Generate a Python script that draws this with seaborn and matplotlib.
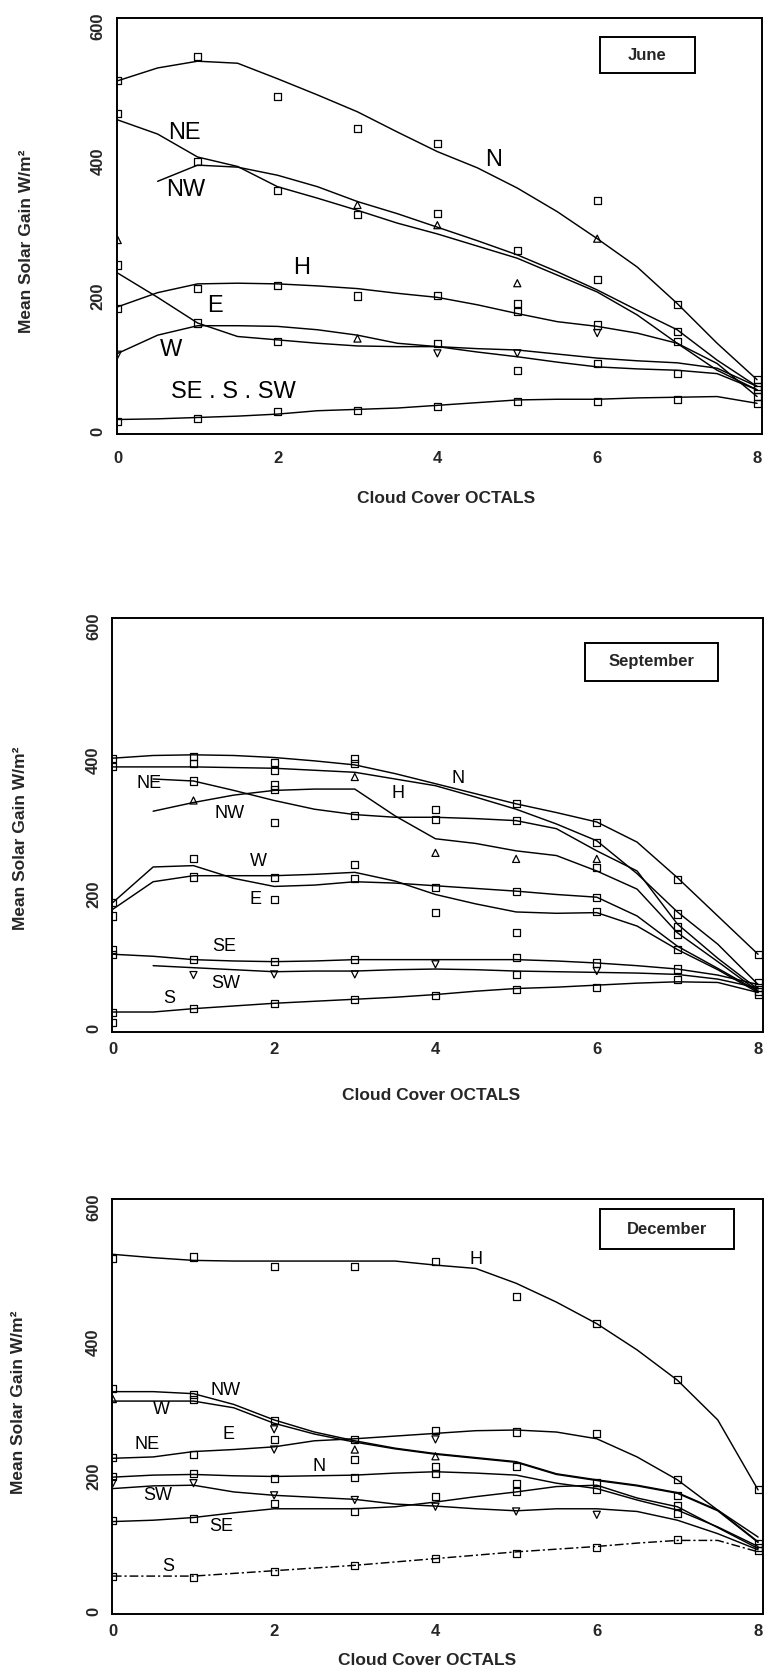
"""Mean solar gain against cloud cover: June, September and December panels."""

import matplotlib
matplotlib.use("Agg")
import matplotlib.pyplot as plt
import numpy as np
import pandas as pd
import seaborn as sns
from matplotlib.patches import Rectangle

nan = np.nan

# cloud cover (octals) at which the smoothed curves were read
STEPS = [0, 0.5, 1, 1.5, 2, 2.5, 3, 3.5, 4, 4.5, 5, 5.5, 6, 6.5, 7, 7.5, 8]

# ---------------- June: curves (W/m2)
jun_N = [519, 538, 548, 545, 522, 498, 473, 443, 414, 390, 360, 325, 285, 243, 189, 130, 76]
jun_NE = [461, 440, 406, 392, 362, 345, 327, 308, 292, 274, 256, 231, 206, 172, 130, 90, 61]
jun_NW = [nan, 370, 394, 391, 379, 362, 340, 322, 302, 282, 261, 236, 209, 179, 150, 105, 66]
jun_H = [184, 205, 218, 219, 218, 215, 211, 204, 198, 187, 174, 162, 155, 145, 130, 100, 51]
jun_E = [234, 198, 160, 140, 135, 130, 126, 125, 125, 122, 120, 114, 108, 104, 101, 93, 66]
jun_W = [115, 142, 156, 156, 155, 150, 142, 130, 125, 117, 110, 102, 95, 92, 90, 85, 61]
jun_SES = [17, 18, 20, 22, 25, 30, 32, 34, 38, 42, 46, 47, 47, 49, 50, 51, 41]

# June: plotted observations
jun_pt_oct = [0, 0, 0, 0, 0, 0, 0,
              1, 1, 1, 1, 1,
              2, 2, 2, 2, 2,
              3, 3, 3, 3, 3, 3,
              4, 4, 4, 4, 4, 4, 4,
              5, 5, 5, 5, 5, 5, 5,
              6, 6, 6, 6, 6, 6, 6,
              7, 7, 7, 7, 7,
              8, 8, 8, 8, 8]
jun_pt_val = [520, 471, 283, 246, 182, 113, 14,
              555, 399, 211, 160, 19,
              496, 357, 215, 132, 29,
              448, 335, 321, 200, 137, 31,
              426, 322, 305, 201, 130, 115, 36,
              268, 219, 189, 177, 115, 90, 43,
              341, 285, 224, 157, 145, 100, 43,
              187, 147, 132, 85, 46,
              76, 66, 61, 51, 41]
jun_pt_sym = ["s", "s", "^", "s", "s", "v", "s",
              "s", "s", "s", "s", "s",
              "s", "s", "s", "s", "s",
              "s", "^", "s", "s", "^", "s",
              "s", "s", "^", "s", "s", "v", "s",
              "s", "^", "s", "s", "v", "s", "s",
              "s", "^", "s", "s", "v", "s", "s",
              "s", "s", "s", "s", "s",
              "s", "s", "s", "s", "s"]

# ---------------- September: curves (W/m2)
sep_N = [403, 407, 408, 407, 404, 399, 393, 380, 365, 350, 335, 322, 308, 278, 225, 168, 111]
sep_H = [390, 390, 390, 389, 388, 385, 382, 372, 362, 345, 327, 305, 280, 231, 174, 126, 66]
sep_NE = [nan, 372, 369, 355, 340, 327, 319, 315, 315, 313, 310, 298, 265, 235, 156, 105, 59]
sep_NW = [nan, 324, 337, 348, 355, 357, 357, 317, 283, 276, 265, 258, 235, 208, 143, 100, 56]
sep_W = [188, 241, 243, 224, 212, 214, 219, 217, 213, 209, 205, 200, 196, 168, 123, 90, 56]
sep_E = [178, 219, 228, 228, 228, 230, 233, 220, 200, 186, 174, 172, 173, 153, 118, 88, 54]
sep_SE = [111, 108, 103, 101, 100, 101, 103, 103, 103, 103, 103, 101, 98, 94, 89, 80, 66]
sep_SW = [nan, 94, 91, 88, 85, 86, 86, 88, 89, 88, 86, 85, 84, 83, 81, 74, 61]
sep_S = [25, 25, 30, 34, 38, 41, 44, 47, 51, 56, 60, 62, 65, 68, 70, 69, 54]

sep_pt_oct = [0, 0, 0, 0, 0, 0, 0, 0,
              1, 1, 1, 1, 1, 1, 1, 1, 1,
              2, 2, 2, 2, 2, 2, 2, 2, 2, 2,
              3, 3, 3, 3, 3, 3, 3, 3, 3,
              4, 4, 4, 4, 4, 4, 4,
              5, 5, 5, 5, 5, 5, 5, 5,
              6, 6, 6, 6, 6, 6, 6, 6, 6,
              7, 7, 7, 7, 7, 7, 7,
              8, 8, 8, 8, 8]
sep_pt_val = [403, 390, 188, 168, 118, 111, 24, 10,
              405, 395, 369, 340, 254, 226, 103, 80, 30,
              397, 385, 363, 357, 307, 225, 193, 100, 81, 38,
              402, 395, 375, 317, 245, 224, 103, 81, 44,
              327, 312, 262, 210, 173, 96, 49,
              335, 310, 253, 205, 143, 106, 81, 59,
              307, 278, 253, 240, 196, 174, 98, 86, 61,
              223, 171, 153, 141, 118, 89, 74,
              111, 69, 62, 56, 51]
sep_pt_sym = ["s", "s", "s", "s", "s", "s", "s", "s",
              "s", "s", "s", "^", "s", "s", "s", "v", "s",
              "s", "s", "s", "s", "s", "s", "s", "s", "v", "s",
              "s", "s", "^", "s", "s", "s", "s", "v", "s",
              "s", "s", "^", "s", "s", "v", "s",
              "s", "s", "^", "s", "s", "s", "s", "s",
              "s", "s", "^", "s", "s", "s", "s", "v", "s",
              "s", "s", "s", "s", "s", "s", "s",
              "s", "s", "s", "s", "s"]

# ---------------- December: curves (W/m2)
dec_H = [530, 525, 521, 520, 520, 520, 520, 520, 514, 509, 487, 459, 427, 388, 343, 284, 180]
dec_NW = [326, 326, 323, 307, 284, 266, 253, 242, 234, 228, 222, 204, 195, 187, 176, 150, 103]
dec_W = [312, 312, 312, 302, 279, 263, 251, 241, 233, 227, 221, 203, 194, 186, 175, 149, 102]
dec_E = [227, 229, 237, 240, 244, 253, 256, 260, 264, 268, 269, 266, 256, 229, 195, 150, 110]
dec_N = [199, 202, 203, 201, 200, 201, 202, 205, 207, 205, 202, 190, 182, 165, 150, 125, 96]
dec_SW = [182, 186, 187, 177, 172, 169, 166, 159, 156, 152, 149, 152, 152, 148, 135, 115, 91]
dec_SE = [133, 135, 139, 146, 152, 152, 152, 155, 162, 170, 177, 185, 187, 168, 155, 124, 93]
dec_S = [52, 52, 52, 56, 60, 64, 68, 73, 78, 83, 88, 92, 96, 101, 105, 105, 88]

dec_pt_oct = [0, 0, 0, 0, 0, 0, 0, 0,
              1, 1, 1, 1, 1, 1, 1, 1,
              2, 2, 2, 2, 2, 2, 2, 2, 2,
              3, 3, 3, 3, 3, 3, 3, 3,
              4, 4, 4, 4, 4, 4, 4, 4, 4,
              5, 5, 5, 5, 5, 5, 5,
              6, 6, 6, 6, 6, 6,
              7, 7, 7, 7, 7, 7,
              8, 8, 8, 8]
dec_pt_val = [524, 330, 315, 228, 200, 190, 135, 52,
              526, 322, 315, 232, 205, 190, 138, 50,
              512, 283, 270, 255, 240, 197, 172, 160, 59,
              512, 255, 240, 225, 198, 165, 148, 68,
              519, 268, 255, 230, 215, 205, 170, 155, 78,
              467, 266, 215, 190, 177, 148, 85,
              427, 264, 191, 180, 143, 95,
              344, 195, 172, 157, 145, 106,
              180, 100, 95, 90]
dec_pt_sym = ["s", "s", "^", "s", "s", "v", "s", "s",
              "s", "s", "s", "s", "s", "v", "s", "s",
              "s", "s", "v", "s", "v", "s", "v", "s", "s",
              "s", "s", "^", "s", "s", "v", "s", "s",
              "s", "s", "v", "^", "s", "s", "s", "v", "s",
              "s", "s", "s", "s", "s", "v", "s",
              "s", "s", "s", "s", "v", "s",
              "s", "s", "s", "s", "s", "s",
              "s", "s", "s", "s"]

# curve labels written on the plot: (text, octal, gain)
jun_labels = [("NE", 0.83, 442), ("NW", 0.85, 357), ("N", 4.70, 401), ("H", 2.30, 241),
              ("E", 1.22, 185), ("W", 0.67, 120), ("SE . S . SW", 1.45, 58)]
sep_labels = [("NE", 0.45, 365), ("NW", 1.45, 320), ("H", 3.53, 350), ("N", 4.28, 373),
              ("W", 1.80, 249), ("E", 1.77, 192), ("SE", 1.38, 122), ("SW", 1.40, 68),
              ("S", 0.70, 45)]
dec_labels = [("H", 4.50, 522), ("NW", 1.40, 328), ("W", 0.60, 299), ("NE", 0.42, 247),
              ("E", 1.44, 263), ("N", 2.56, 215), ("SW", 0.56, 171), ("SE", 1.35, 125),
              ("S", 0.69, 66)]

sns.set_style("white")
plt.rcParams["font.family"] = ["Liberation Sans", "DejaVu Sans"]
LABEL_FONT = ["Liberation Sans Narrow", "Liberation Sans", "DejaVu Sans"]

panels = [
    dict(month="June", rect=[0.153, 0.7396, 0.8442, 0.2496],
         curves=[jun_N, jun_NE, jun_NW, jun_H, jun_E, jun_W, jun_SES], dashed=None,
         pts=(jun_pt_oct, jun_pt_val, jun_pt_sym), labels=jun_labels, lab_size=17,
         box=(0.749, 0.868, 0.147, 0.086), xlab=(0.51, -0.155), ylab=(-0.14, 0.464), xpad=12),
    dict(month="September", rect=[0.1466, 0.3812, 0.852, 0.2484],
         curves=[sep_N, sep_H, sep_NE, sep_NW, sep_W, sep_E, sep_SE, sep_SW, sep_S], dashed=None,
         pts=(sep_pt_oct, sep_pt_val, sep_pt_sym), labels=sep_labels, lab_size=13,
         box=(0.727, 0.848, 0.204, 0.092), xlab=(0.49, -0.152), ylab=(-0.14, 0.469), xpad=7),
    dict(month="December", rect=[0.1466, 0.0321, 0.852, 0.249],
         curves=[dec_H, dec_NW, dec_W, dec_E, dec_N, dec_SW, dec_SE], dashed=dec_S,
         pts=(dec_pt_oct, dec_pt_val, dec_pt_sym), labels=dec_labels, lab_size=13,
         box=(0.750, 0.879, 0.205, 0.097), xlab=(0.484, -0.111), ylab=(-0.143, 0.511), xpad=7),
]

fig = plt.figure(figsize=(7.64, 16.68), dpi=100)

for p in panels:
    ax = fig.add_axes(p["rect"])

    for vals in p["curves"]:
        df = pd.DataFrame({"octal": STEPS, "gain": vals})
        sns.lineplot(data=df, x="octal", y="gain", ax=ax, color="black",
                     linewidth=1.05, estimator=None)
    if p["dashed"] is not None:
        df = pd.DataFrame({"octal": STEPS, "gain": p["dashed"]})
        sns.lineplot(data=df, x="octal", y="gain", ax=ax, color="black",
                     linewidth=1.05, estimator=None, linestyle=(0, (6, 2, 1.5, 2)))

    oct_, val_, sym_ = p["pts"]
    pts = pd.DataFrame({"octal": oct_, "gain": val_, "sym": sym_})
    sns.scatterplot(data=pts, x="octal", y="gain", style="sym",
                    markers={"s": "s", "^": "^", "v": "v"}, s=26,
                    facecolor="none", edgecolor="black", linewidth=0.9,
                    legend=False, ax=ax, zorder=3)

    for text, x, y in p["labels"]:
        ax.text(x, y, text, fontsize=p["lab_size"], family=LABEL_FONT,
                ha="center", va="center", color="black")

    ax.set_xlim(-0.01, 8.06)
    ax.set_ylim(-5, 612)
    ax.set_xticks([0, 2, 4, 6, 8])
    ax.set_yticks([0, 200, 400, 600])
    ax.tick_params(axis="x", length=0, pad=p["xpad"], labelsize=12)
    ax.tick_params(axis="y", length=0, pad=8, labelsize=12)
    for lab in ax.get_xticklabels():
        lab.set_fontweight("bold")
    for lab in ax.get_yticklabels():
        lab.set_fontweight("bold")
        lab.set_rotation(90)
        lab.set_va("center")

    for sp in ax.spines.values():
        sp.set_visible(True)
        sp.set_color("black")
        sp.set_linewidth(1.4)

    bx, by, bw, bh = p["box"]
    ax.add_patch(Rectangle((bx, by), bw, bh, transform=ax.transAxes,
                           facecolor="white", edgecolor="black", linewidth=1.4, zorder=4))
    ax.text(bx + bw / 2, by + bh / 2, p["month"], transform=ax.transAxes,
            ha="center", va="center", fontsize=12, fontweight="bold", zorder=5)

    ax.set_xlabel("Cloud Cover OCTALS", fontsize=12.5, fontweight="bold")
    ax.set_ylabel("Mean Solar Gain W/m²", fontsize=12.5, fontweight="bold")
    ax.xaxis.set_label_coords(*p["xlab"])
    ax.yaxis.set_label_coords(*p["ylab"])
    ax.xaxis.label.set_va("center")
    ax.yaxis.label.set_va("center")

fig.savefig("out.png", dpi=100, facecolor="white")
plt.close(fig)
